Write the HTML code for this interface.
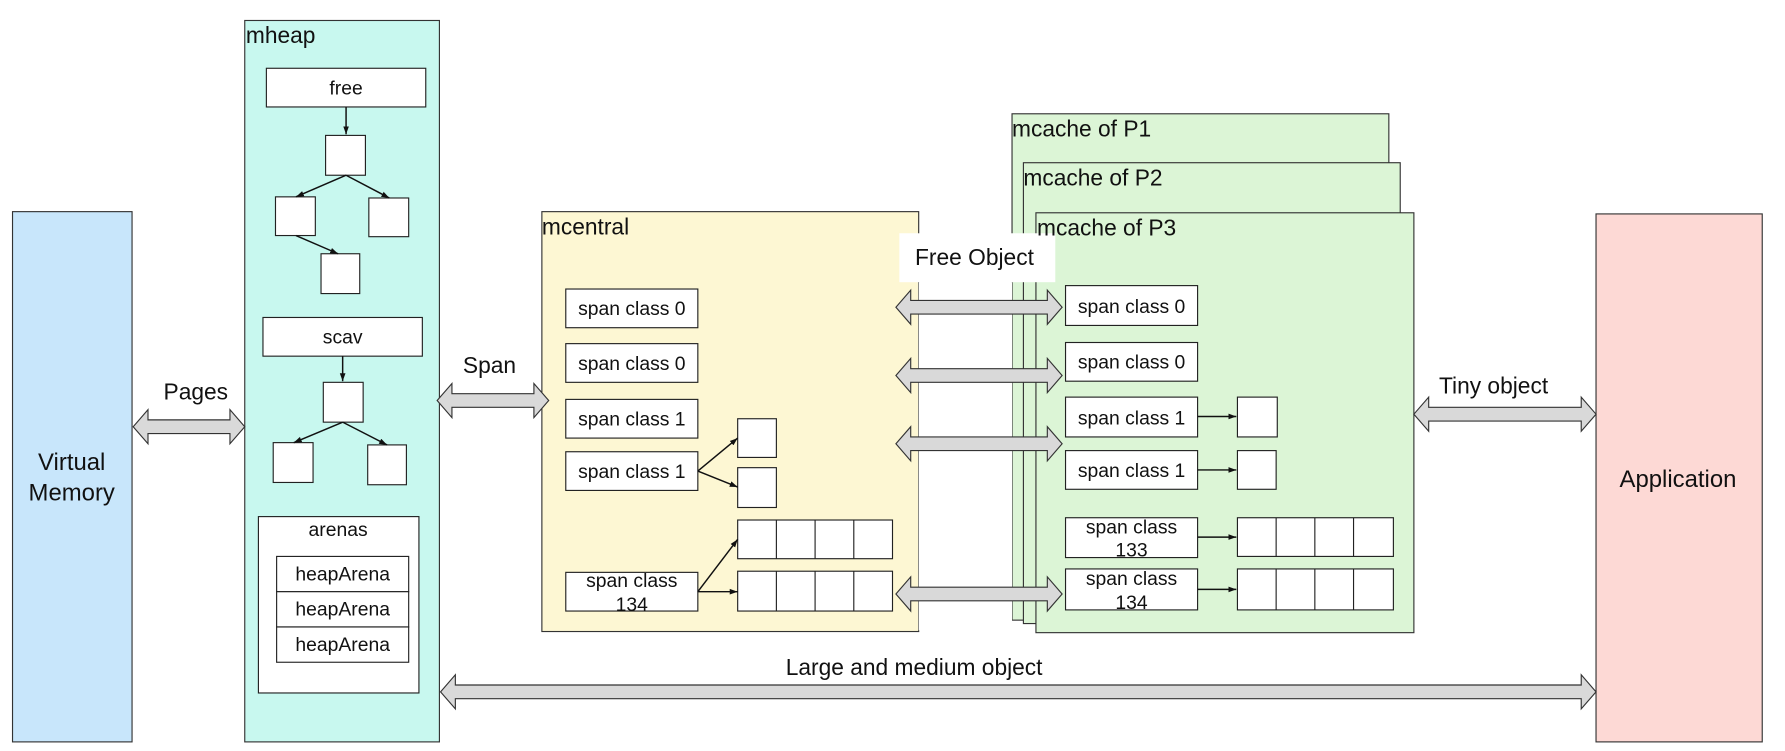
<!DOCTYPE html>
<html><head><meta charset="utf-8"><style>
html,body{margin:0;padding:0;background:#fff;}
svg{display:block;}
text{font-family:"Liberation Sans","DejaVu Sans",sans-serif;fill:#111;}
</style></head><body>
<svg width="1785" height="751" viewBox="0 0 1568 660" preserveAspectRatio="none" xmlns="http://www.w3.org/2000/svg">
<defs>
<marker id="ah" markerWidth="8" markerHeight="8" refX="7" refY="4" orient="auto" markerUnits="userSpaceOnUse"><path d="M0,1.5 L7,4 L0,6.5 z" fill="#111"/></marker>
</defs>
<g stroke="#333" stroke-width="1">
<rect x="11" y="186" width="105" height="466" fill="#c8e6fb"/>
<rect x="215" y="18" width="171" height="634" fill="#c8f8ef"/>
<rect x="476" y="186" width="331" height="369" fill="#fdf7d3"/>
<rect x="889" y="100" width="331" height="445" fill="#dcf5d6"/>
<rect x="899" y="143" width="331" height="405" fill="#dcf5d6"/>
<rect x="910" y="187" width="332" height="369" fill="#dcf5d6"/>
<rect x="1402" y="188" width="146" height="464" fill="#fdd9d5"/>
</g>
<rect x="790" y="205" width="137" height="43" fill="#fff"/>
<rect x="807" y="248" width="82" height="306" fill="#fff"/>

<g fill="#fff" stroke="#222" stroke-width="1">
<rect x="234" y="60" width="140" height="34"/>
<rect x="286" y="119" width="35" height="35"/>
<rect x="242" y="173" width="35" height="34"/>
<rect x="324" y="174" width="35" height="34"/>
<rect x="282" y="223" width="34" height="35"/>
<rect x="231" y="279" width="140" height="34"/>
<rect x="284" y="336" width="35" height="35"/>
<rect x="240" y="389" width="35" height="35"/>
<rect x="323" y="391" width="34" height="35"/>
<rect x="227" y="454" width="141" height="155"/>
<rect x="243" y="489" width="116" height="31"/>
<rect x="243" y="520" width="116" height="31"/>
<rect x="243" y="551" width="116" height="31"/>
<rect x="497" y="254" width="116" height="34"/>
<rect x="497" y="302" width="116" height="34"/>
<rect x="497" y="351" width="116" height="34"/>
<rect x="497" y="397" width="116" height="34"/>
<rect x="497" y="503" width="116" height="34"/>
<rect x="648" y="368" width="34" height="34"/>
<rect x="648" y="411" width="34" height="35"/>
<rect x="648" y="457" width="136" height="34"/>
<rect x="648" y="502" width="136" height="35"/>
<rect x="936" y="251" width="116" height="35"/>
<rect x="936" y="301" width="116" height="34"/>
<rect x="936" y="349" width="116" height="35"/>
<rect x="936" y="396" width="116" height="34"/>
<rect x="936" y="455" width="116" height="35"/>
<rect x="936" y="500" width="116" height="36"/>
<rect x="1087" y="349" width="35" height="35"/>
<rect x="1087" y="396" width="34" height="34"/>
<rect x="1087" y="455" width="137" height="34"/>
<rect x="1087" y="500" width="137" height="36"/>
</g>
<g stroke="#222" stroke-width="1">
<line x1="682" y1="457" x2="682" y2="491"/><line x1="716" y1="457" x2="716" y2="491"/><line x1="750" y1="457" x2="750" y2="491"/>
<line x1="682" y1="502" x2="682" y2="537"/><line x1="716" y1="502" x2="716" y2="537"/><line x1="750" y1="502" x2="750" y2="537"/>
<line x1="1121" y1="455" x2="1121" y2="489"/><line x1="1155" y1="455" x2="1155" y2="489"/><line x1="1189" y1="455" x2="1189" y2="489"/>
<line x1="1121" y1="500" x2="1121" y2="536"/><line x1="1155" y1="500" x2="1155" y2="536"/><line x1="1189" y1="500" x2="1189" y2="536"/>
</g>
<g stroke="#111" stroke-width="1.3" fill="none" marker-end="url(#ah)">
<line x1="304" y1="94" x2="304" y2="118"/>
<line x1="304" y1="154" x2="260" y2="173"/>
<line x1="304" y1="154" x2="342" y2="174"/>
<line x1="260" y1="207" x2="297" y2="223"/>
<line x1="301" y1="313" x2="301" y2="335"/>
<line x1="301" y1="371" x2="258" y2="389"/>
<line x1="301" y1="371" x2="340" y2="391"/>
<line x1="613" y1="414" x2="648" y2="385"/>
<line x1="613" y1="414" x2="648" y2="428"/>
<line x1="613" y1="520" x2="648" y2="474"/>
<line x1="613" y1="520" x2="648" y2="520"/>
<line x1="1052" y1="366" x2="1086" y2="366"/>
<line x1="1052" y1="413" x2="1086" y2="413"/>
<line x1="1052" y1="472" x2="1086" y2="472"/>
<line x1="1052" y1="518" x2="1086" y2="518"/>
</g>
<g fill="#d9d9d9" stroke="#333" stroke-width="1">
<path d="M117,375 L130,360 L130,369 L202,369 L202,360 L215,375 L202,390 L202,381 L130,381 L130,390 Z"/>
<path d="M384,352 L397,337 L397,346 L469,346 L469,337 L482,352 L469,367 L469,358 L397,358 L397,367 Z"/>
<path d="M387,608 L400,593 L400,602 L1389,602 L1389,593 L1402,608 L1389,623 L1389,614 L400,614 L400,623 Z"/>
<path d="M1242,364 L1255,349 L1255,358 L1389,358 L1389,349 L1402,364 L1389,379 L1389,370 L1255,370 L1255,379 Z"/>
<path d="M787,270 L800,255 L800,264 L920,264 L920,255 L933,270 L920,285 L920,276 L800,276 L800,285 Z"/>
<path d="M787,330 L800,315 L800,324 L920,324 L920,315 L933,330 L920,345 L920,336 L800,336 L800,345 Z"/>
<path d="M787,390 L800,375 L800,384 L920,384 L920,375 L933,390 L920,405 L920,396 L800,396 L800,405 Z"/>
<path d="M787,522 L800,507 L800,516 L920,516 L920,507 L933,522 L920,537 L920,528 L800,528 L800,537 Z"/>
</g>
<g font-size="20">
<text x="216" y="38">mheap</text>
<text x="476" y="206">mcentral</text>
<text x="889" y="120">mcache of P1</text>
<text x="899" y="163">mcache of P2</text>
<text x="911" y="207">mcache of P3</text>
<text x="856" y="233" text-anchor="middle">Free Object</text>
<text x="172" y="351" text-anchor="middle">Pages</text>
<text x="430" y="328" text-anchor="middle">Span</text>
<text x="1312" y="346" text-anchor="middle">Tiny object</text>
<text x="803" y="593" text-anchor="middle">Large and medium object</text>
<text x="63" y="413" text-anchor="middle" font-size="21">Virtual</text>
<text x="63" y="440" text-anchor="middle" font-size="21">Memory</text>
<text x="1474" y="428" text-anchor="middle" font-size="21">Application</text>
</g>
<g font-size="17" text-anchor="middle">
<text x="304" y="83">free</text>
<text x="301" y="302">scav</text>
<text x="297" y="471">arenas</text>
<text x="301" y="510">heapArena</text>
<text x="301" y="541">heapArena</text>
<text x="301" y="572">heapArena</text>
<text x="555" y="277">span class 0</text>
<text x="555" y="325">span class 0</text>
<text x="555" y="374">span class 1</text>
<text x="555" y="420">span class 1</text>
<text x="555" y="516">span class</text>
<text x="555" y="537">134</text>
<text x="994" y="275">span class 0</text>
<text x="994" y="324">span class 0</text>
<text x="994" y="373">span class 1</text>
<text x="994" y="419">span class 1</text>
<text x="994" y="469">span class</text>
<text x="994" y="489">133</text>
<text x="994" y="514">span class</text>
<text x="994" y="535">134</text>
</g>
</svg>
</body></html>
